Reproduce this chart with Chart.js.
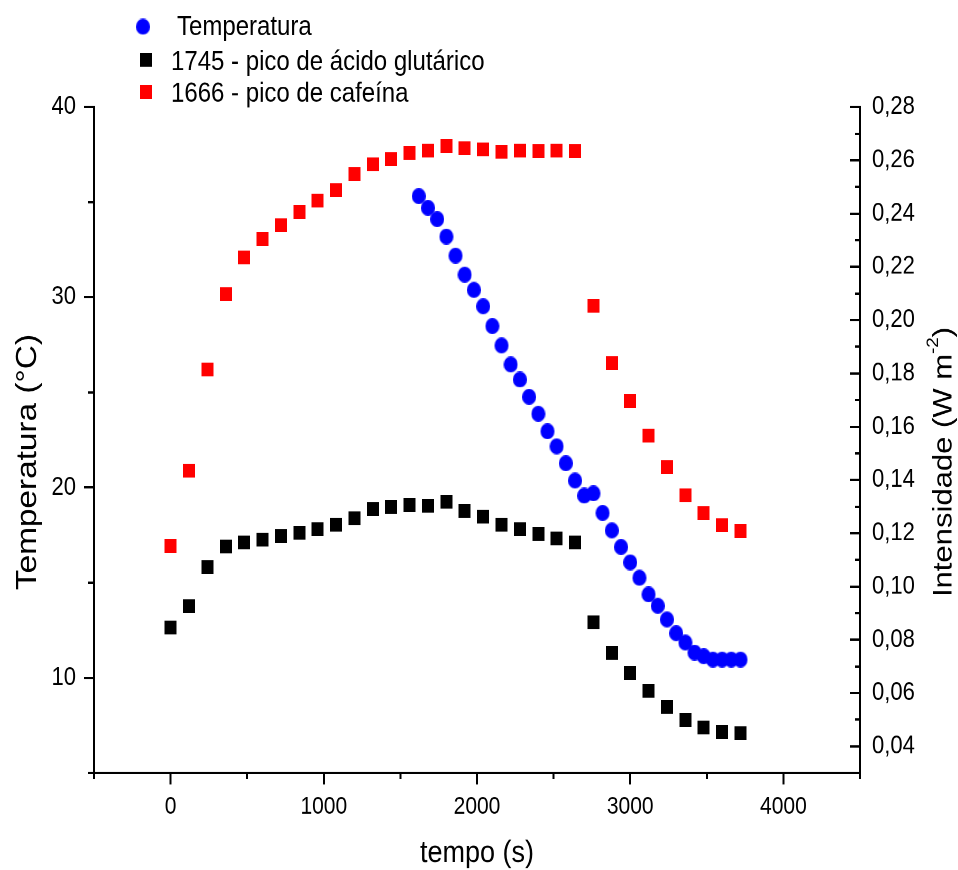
<!DOCTYPE html>
<html>
<head>
<meta charset="utf-8">
<title>Temperatura e intensidade dos picos</title>
<script src="https://cdn.jsdelivr.net/npm/chart.js@4.4.1/dist/chart.umd.min.js"></script>
<style>
  html, body { margin: 0; padding: 0; background: #ffffff; }
  #wrap { position: relative; width: 958px; height: 870px; }
</style>
</head>
<body>
<div id="wrap">
  <!-- desenho em 958x757, exibido esticado na vertical até 870 px -->
  <canvas id="grafico" width="958" height="757" style="width:958px;height:870px;display:block"></canvas>
</div>
<script>
// ---- dados ----
const tempoTemperatura = [1620, 1680, 1740, 1800, 1860, 1920, 1980, 2040, 2100, 2160, 2220, 2280,
  2340, 2400, 2460, 2520, 2580, 2640, 2700, 2760, 2820, 2880, 2940, 3000,
  3060, 3120, 3180, 3240, 3300, 3360, 3420, 3480, 3540, 3600, 3660, 3720];
const temperatura = [35.32, 34.70, 34.11, 33.19, 32.19, 31.19, 30.39, 29.53, 28.49, 27.47, 26.47, 25.68,
  24.77, 23.88, 22.96, 22.17, 21.28, 20.37, 19.58, 19.70, 18.67, 17.75, 16.88, 16.07,
  15.26, 14.39, 13.79, 13.07, 12.35, 11.86, 11.33, 11.14, 10.96, 10.96, 10.96, 10.96];

const tempoIntensidade = [0, 120, 240, 360, 480, 600, 720, 840, 960, 1080, 1200, 1320, 1440, 1560, 1680, 1800,
  1920, 2040, 2160, 2280, 2400, 2520, 2640, 2760, 2880, 3000, 3120, 3240, 3360, 3480, 3600, 3720];
const pico1745 = [0.0846, 0.0927, 0.1072, 0.1151, 0.1165, 0.1176, 0.1190, 0.1202, 0.1215, 0.1232, 0.1256, 0.1290,
  0.1300, 0.1305, 0.1304, 0.1318, 0.1285, 0.1262, 0.1233, 0.1215, 0.1197, 0.1181, 0.1166, 0.0865,
  0.0751, 0.0676, 0.0609, 0.0549, 0.0498, 0.0470, 0.0453, 0.0449];
const pico1666 = [0.1153, 0.1435, 0.1815, 0.2097, 0.2236, 0.2304, 0.2356, 0.2405, 0.2448, 0.2488, 0.2549, 0.2585,
  0.2605, 0.2628, 0.2636, 0.2653, 0.2646, 0.2640, 0.2632, 0.2637, 0.2635, 0.2636, 0.2635, 0.2054,
  0.1839, 0.1695, 0.1566, 0.1448, 0.1342, 0.1276, 0.1230, 0.1209];

const nomesSeries = ['Temperatura', '1745 - pico de ácido glutárico', '1666 - pico de cafeína'];

// ---- marcas dos eixos ----
const ticksTempo = [-500, 0, 500, 1000, 1500, 2000, 2500, 3000, 3500, 4000, 4500];
const rotulosTempo = [0, 1000, 2000, 3000, 4000];
const ticksTemperatura = [5, 10, 15, 20, 25, 30, 35, 40];
const rotulosTemperatura = [10, 20, 30, 40];
const ticksIntensidade = [0.03, 0.04, 0.05, 0.06, 0.07, 0.08, 0.09, 0.10, 0.11, 0.12, 0.13, 0.14, 0.15,
  0.16, 0.17, 0.18, 0.19, 0.20, 0.21, 0.22, 0.23, 0.24, 0.25, 0.26, 0.27, 0.28];
const rotulosIntensidade = [0.04, 0.06, 0.08, 0.10, 0.12, 0.14, 0.16, 0.18, 0.20, 0.22, 0.24, 0.26, 0.28];

const fonte = "'Liberation Sans', Arial, Helvetica, sans-serif";
Chart.defaults.font.family = fonte;
Chart.defaults.color = '#000';

const contem = (lista, v) => lista.some(r => Math.abs(r - v) < 1e-9);

// marcadores desenhados em canvas próprios (círculo azul, quadrados)
function marcador(forma, cor, w, h) {
  const c = document.createElement('canvas');
  c.width = w; c.height = h;
  const g = c.getContext('2d');
  g.fillStyle = cor;
  if (forma === 'circulo') {
    g.beginPath();
    g.ellipse(w / 2, h / 2, w / 2, h / 2, 0, 0, Math.PI * 2);
    g.fill();
  } else {
    g.fillRect(0, 0, w, h);
  }
  return c;
}
const simboloAzul = marcador('circulo', '#0000ff', 14, 14);
const simboloPreto = marcador('quadrado', '#000000', 12, 12);
const simboloVermelho = marcador('quadrado', '#ff0000', 12, 12);

const pares = (xs, ys) => xs.map((x, i) => ({ x: x, y: ys[i] }));

// legenda em coluna no canto superior esquerdo
const legendaColuna = {
  id: 'legendaColuna',
  afterDraw(chart, args, opts) {
    const ctx = chart.ctx;
    ctx.save();
    ctx.font = opts.font;
    ctx.fillStyle = '#000';
    ctx.textAlign = 'left';
    ctx.textBaseline = 'alphabetic';
    chart.data.datasets.forEach((ds, i) => {
      const it = opts.itens[i];
      const img = ds.pointStyle;
      ctx.drawImage(img, it.mx - img.width / 2, it.my - img.height / 2);
      ctx.fillText(ds.label, it.tx, it.ty);
    });
    ctx.restore();
  }
};

// títulos dos eixos verticais (o da direita leva expoente)
const titulosVerticais = {
  id: 'titulosVerticais',
  afterDraw(chart, args, opts) {
    const ctx = chart.ctx;
    const desenhar = (cfg) => {
      ctx.save();
      ctx.translate(cfg.x, cfg.y);
      ctx.rotate(-Math.PI / 2);
      ctx.fillStyle = '#000';
      ctx.textBaseline = 'middle';
      ctx.textAlign = 'left';
      const pecas = cfg.partes.map(p => {
        const tam = cfg.size * (p.escala || 1);
        ctx.font = tam + 'px ' + fonte;
        return { texto: p.texto, tam: tam, sobe: (p.sobe || 0) * cfg.size, larg: ctx.measureText(p.texto).width };
      });
      const total = pecas.reduce((s, p) => s + p.larg, 0);
      let pos = -total / 2;
      pecas.forEach(p => {
        ctx.font = p.tam + 'px ' + fonte;
        ctx.fillText(p.texto, pos, -p.sobe);
        pos += p.larg;
      });
      ctx.restore();
    };
    desenhar(opts.esquerda);
    desenhar(opts.direita);
  }
};

const tracoMenor = (lista, padrao) => (c) => (c.tick && !contem(lista, c.tick.value)) ? padrao : [];

new Chart(document.getElementById('grafico'), {
  type: 'scatter',
  data: {
    datasets: [
      {
        label: nomesSeries[0],
        data: pares(tempoTemperatura, temperatura),
        yAxisID: 'y',
        pointStyle: simboloAzul,
        pointRadius: 7,
        showLine: false
      },
      {
        label: nomesSeries[1],
        data: pares(tempoIntensidade, pico1745),
        yAxisID: 'y2',
        pointStyle: simboloPreto,
        pointRadius: 7,
        showLine: false
      },
      {
        label: nomesSeries[2],
        data: pares(tempoIntensidade, pico1666),
        yAxisID: 'y2',
        pointStyle: simboloVermelho,
        pointRadius: 7,
        showLine: false
      }
    ]
  },
  options: {
    responsive: false,
    devicePixelRatio: 2,
    animation: false,
    events: [],
    layout: { padding: { top: 93.1, left: 0, right: 0, bottom: 0 }, autoPadding: false },
    plugins: {
      legend: { display: false },
      tooltip: { enabled: false },
      legendaColuna: {
        font: '24px ' + fonte,
        itens: [
          { mx: 143, my: 23.2, tx: 177, ty: 30.5 },
          { mx: 146, my: 52.2, tx: 171, ty: 60.9 },
          { mx: 146, my: 79.8, tx: 171, ty: 88.5 }
        ]
      },
      titulosVerticais: {
        esquerda: { x: 28, y: 402, size: 29, partes: [{ texto: 'Temperatura (°C)' }] },
        direita: { x: 944, y: 402, size: 27, partes: [
          { texto: 'Intensidade (W m' },
          { texto: '-2', escala: 0.6, sobe: 0.38 },
          { texto: ')' }
        ] }
      }
    },
    scales: {
      x: {
        type: 'linear',
        position: 'bottom',
        min: -500,
        max: 4500,
        afterBuildTicks: s => { s.ticks = ticksTempo.map(v => ({ value: v })); },
        afterFit: s => { s.height = 84.4; },
        ticks: {
          autoSkip: false,
          maxRotation: 0,
          padding: 7,
          font: { size: 21 },
          callback: v => contem(rotulosTempo, v) ? String(v) : ''
        },
        grid: {
          drawOnChartArea: false,
          tickLength: 10,
          tickWidth: 2,
          tickColor: '#000',
          tickBorderDash: tracoMenor(rotulosTempo, [4.5, 100])
        },
        border: { display: true, color: '#000', width: 2 },
        title: {
          display: true,
          text: 'tempo (s)',
          font: { size: 27, lineHeight: 1 },
          padding: { top: 0, bottom: 1 }
        }
      },
      y: {
        type: 'linear',
        position: 'left',
        min: 5,
        max: 40,
        afterBuildTicks: s => { s.ticks = ticksTemperatura.map(v => ({ value: v })); },
        afterFit: s => { s.width = 94; },
        ticks: {
          autoSkip: false,
          padding: 8,
          font: { size: 22 },
          callback: v => contem(rotulosTemperatura, v) ? String(v) : ''
        },
        grid: {
          drawOnChartArea: false,
          tickLength: 10,
          tickWidth: 2,
          tickColor: '#000',
          tickBorderDash: tracoMenor(rotulosTemperatura, [0, 4, 6, 100])
        },
        border: { display: true, color: '#000', width: 2 },
        title: { display: false, text: 'Temperatura (°C)' }
      },
      y2: {
        type: 'linear',
        position: 'right',
        min: 0.03,
        max: 0.28,
        afterBuildTicks: s => { s.ticks = ticksIntensidade.map(v => ({ value: v })); },
        afterFit: s => { s.width = 98; },
        ticks: {
          autoSkip: false,
          padding: 22,
          font: { size: 22 },
          callback: v => contem(rotulosIntensidade, v) ? v.toFixed(2).replace('.', ',') : ''
        },
        grid: {
          drawOnChartArea: false,
          tickLength: -10,
          tickWidth: 2,
          tickColor: '#000',
          tickBorderDash: tracoMenor(rotulosIntensidade, [6, 100])
        },
        border: { display: true, color: '#000', width: 2 },
        title: { display: false, text: 'Intensidade (W m-2)' }
      }
    }
  },
  plugins: [legendaColuna, titulosVerticais]
});
</script>
</body>
</html>
